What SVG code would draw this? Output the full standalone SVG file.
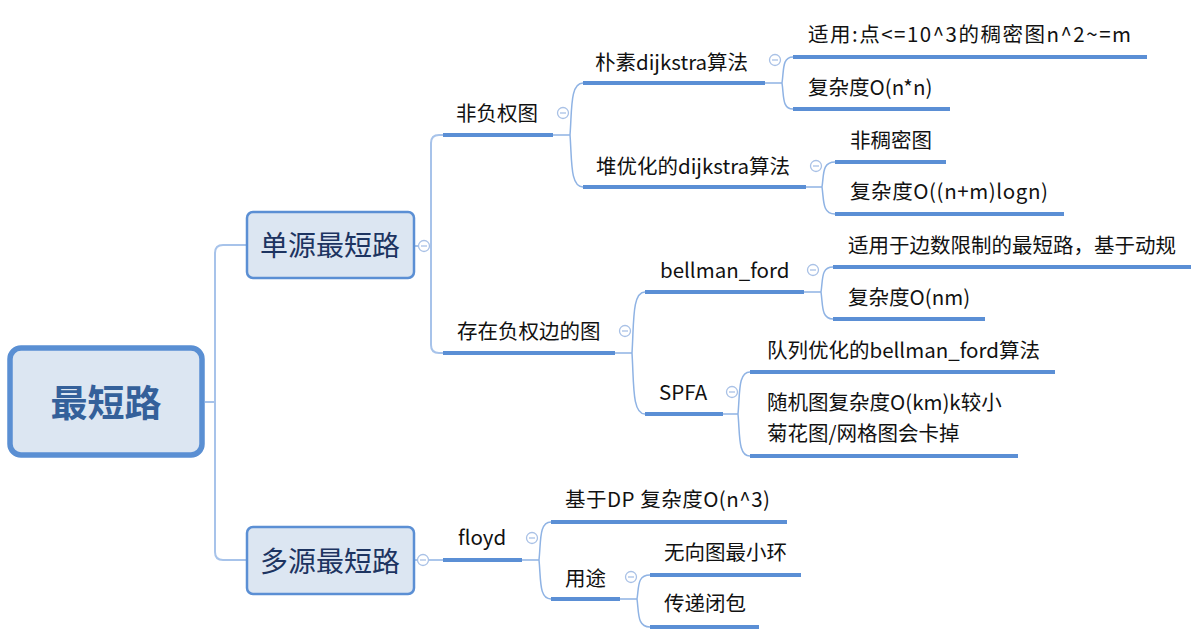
<svg xmlns="http://www.w3.org/2000/svg" width="1200" height="637" viewBox="0 0 1200 637">
<style>
.t{font-family:"Noto Sans CJK SC","Liberation Sans",sans-serif;font-size:20.5px;fill:#111111}
.bx{fill:#dce6f2;stroke:#5b8fd4;stroke-width:2.5}
.bt{font-family:"Noto Sans CJK SC","Liberation Sans",sans-serif;font-size:28px;fill:#1d3461;text-anchor:middle}
.ul{stroke:#5b8fd5;stroke-width:4;fill:none}
.cn{stroke:#8fb3e4;stroke-width:1.5;fill:none}
.cr{stroke:#a7c3ea;stroke-width:2;fill:none}
.col{fill:#ffffff;stroke:#a9c1e6;stroke-width:1.3}
.mn{stroke:#a9c1e6;stroke-width:1.3}
</style>
<defs>
<g id="collapse"><circle class="col" cx="0" cy="0" r="5.5"/><line class="mn" x1="-3" y1="0" x2="3" y2="0"/></g>
</defs>
<rect width="1200" height="637" fill="#ffffff"/>
<g id="connectors">
<path class="cr" d="M205 402 H215 M246 245 H223 Q215 245 215 253 V552 Q215 560 223 560 H246"/>
<path class="cr" d="M415 246 H431 M443 135 H439 Q431 135 431 143 V345 Q431 353 439 353 H443"/>
<path class="cn" d="M415 560 H443"/>
<path class="cn" d="M553 135 H570 M570 135 C572 110 570 83 583 83 M570 135 C572 160 570 187 583 187"/>
<path class="cn" d="M765 83 H782 M782 83 C784 70 782 57 793 57 M782 83 C784 96 782 109 793 109"/>
<path class="cn" d="M806 187 H822 M822 187 C824 174 822 162 835 162 M822 187 C824 200 822 214 835 214"/>
<path class="cn" d="M615 353 H632 M632 353 C634 322 632 292 645 292 M632 353 C634 384 632 414 645 414"/>
<path class="cn" d="M804 292 H821 M821 292 C823 279 821 267 833 267 M821 292 C823 305 821 319 833 319"/>
<path class="cn" d="M723 414 H738 M738 414 C740 393 738 372 750 372 M738 414 C740 435 738 456 750 456"/>
<path class="cn" d="M522 560 H539 M539 560 C541 541 539 522 551 522 M539 560 C541 580 539 599 551 599"/>
<path class="cn" d="M620 599 H637 M637 599 C639 587 637 575 650 575 M637 599 C639 613 637 627 650 627"/>
</g>
<g id="root">
<rect x="10" y="348" width="192" height="107" rx="11" fill="#dce6f2" stroke="#5a8fd3" stroke-width="5.5"/>
<text x="106" y="417" text-anchor="middle" font-family="'Noto Sans CJK SC','Liberation Sans',sans-serif" font-size="37" font-weight="bold" fill="#34609a">最短路</text>
</g>
<g id="n1">
<rect class="bx" x="247" y="212" width="167" height="66" rx="6"/>
<text class="bt" x="330" y="256">单源最短路</text>
<use href="#collapse" x="424" y="246"/>
</g>
<g id="n2">
<rect class="bx" x="247" y="527" width="167" height="67" rx="6"/>
<text class="bt" x="330" y="572">多源最短路</text>
<use href="#collapse" x="423" y="560"/>
</g>
<g id="n11">
<text class="t" x="456" y="121">非负权图</text>
<line class="ul" x1="443" y1="135" x2="553" y2="135"/>
<use href="#collapse" x="563" y="113"/>
</g>
<g id="n111">
<text class="t" x="595" y="70">朴素dijkstra算法</text>
<line class="ul" x1="583" y1="83" x2="765" y2="83"/>
<use href="#collapse" x="775" y="60"/>
</g>
<g id="n1111">
<text class="t" x="808" y="42" textLength="323" lengthAdjust="spacing">适用:点&lt;=10^3的稠密图n^2~=m</text>
<line class="ul" x1="793" y1="57" x2="1147" y2="57"/>
</g>
<g id="n1112">
<text class="t" x="808" y="95">复杂度O(n*n)</text>
<line class="ul" x1="793" y1="109" x2="950" y2="109"/>
</g>
<g id="n112">
<text class="t" x="596" y="174">堆优化的dijkstra算法</text>
<line class="ul" x1="583" y1="187" x2="806" y2="187"/>
<use href="#collapse" x="816" y="166"/>
</g>
<g id="n1121">
<text class="t" x="850" y="148">非稠密图</text>
<line class="ul" x1="835" y1="162" x2="946" y2="162"/>
</g>
<g id="n1122">
<text class="t" x="850" y="199" textLength="198" lengthAdjust="spacing">复杂度O((n+m)logn)</text>
<line class="ul" x1="835" y1="214" x2="1064" y2="214"/>
</g>
<g id="n12">
<text class="t" x="457" y="339">存在负权边的图</text>
<line class="ul" x1="443" y1="353" x2="615" y2="353"/>
<use href="#collapse" x="625" y="331"/>
</g>
<g id="n121">
<text class="t" x="660" y="278">bellman_ford</text>
<line class="ul" x1="645" y1="292" x2="804" y2="292"/>
<use href="#collapse" x="813" y="270"/>
</g>
<g id="n1211">
<text class="t" x="848" y="253">适用于边数限制的最短路，基于动规</text>
<line class="ul" x1="833" y1="267" x2="1191" y2="267"/>
</g>
<g id="n1212">
<text class="t" x="848" y="305">复杂度O(nm)</text>
<line class="ul" x1="833" y1="319" x2="985" y2="319"/>
</g>
<g id="n122">
<text class="t" x="659" y="400">SPFA</text>
<line class="ul" x1="645" y1="414" x2="723" y2="414"/>
<use href="#collapse" x="732" y="392"/>
</g>
<g id="n1221">
<text class="t" x="767" y="358">队列优化的bellman_ford算法</text>
<line class="ul" x1="750" y1="372" x2="1055" y2="372"/>
</g>
<g id="n1222">
<text class="t" x="767" y="410">随机图复杂度O(km)k较小</text>
<text class="t" x="767" y="441">菊花图/网格图会卡掉</text>
<line class="ul" x1="750" y1="456" x2="1018" y2="456"/>
</g>
<g id="n21">
<text class="t" x="458" y="545">floyd</text>
<line class="ul" x1="443" y1="560" x2="522" y2="560"/>
<use href="#collapse" x="532" y="538"/>
</g>
<g id="n211">
<text class="t" x="565" y="507" textLength="205" lengthAdjust="spacing">基于DP 复杂度O(n^3)</text>
<line class="ul" x1="551" y1="522" x2="787" y2="522"/>
</g>
<g id="n212">
<text class="t" x="565" y="586">用途</text>
<line class="ul" x1="551" y1="599" x2="620" y2="599"/>
<use href="#collapse" x="631" y="577"/>
</g>
<g id="n2121">
<text class="t" x="664" y="560">无向图最小环</text>
<line class="ul" x1="650" y1="575" x2="801" y2="575"/>
</g>
<g id="n2122">
<text class="t" x="664" y="611">传递闭包</text>
<line class="ul" x1="650" y1="627" x2="759" y2="627"/>
</g>
</svg>
